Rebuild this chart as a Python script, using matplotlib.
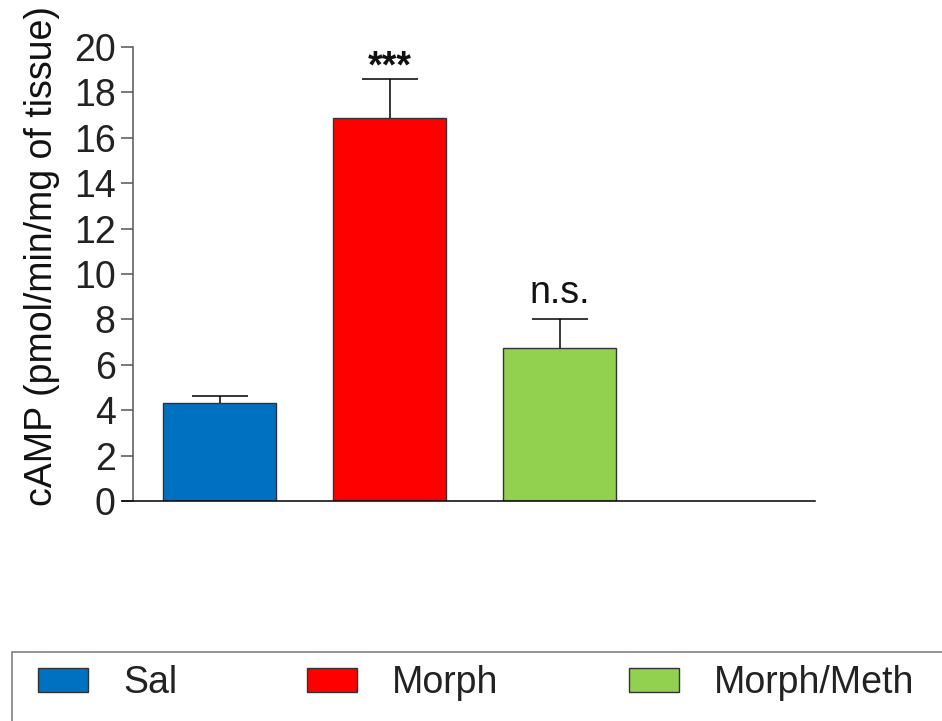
import matplotlib.pyplot as plt
from matplotlib.patches import Rectangle

# --- Data ---
groups = ["Sal", "Morph", "Morph/Meth"]
camp_mean = [4.32, 16.87, 6.74]
camp_sem = [0.31, 1.72, 1.29]
signif = ["", "***", "n.s."]
colors = ["#0070C0", "#FF0000", "#92D050"]
y_ticks = [0, 2, 4, 6, 8, 10, 12, 14, 16, 18, 20]

plt.rcParams['font.family'] = ['Liberation Sans', 'DejaVu Sans']
FS = 27

fig = plt.figure(figsize=(9.42, 7.21), dpi=100)
# axes span from the x-axis start (px 122) to px 815, y from px 47 to 501
ax = fig.add_axes([122 / 942, 1 - 501 / 721, (815 - 122) / 942, (501 - 47) / 721])

x = list(range(len(groups)))
bars = ax.bar(x, camp_mean, width=0.665, color=colors, edgecolor="#333333",
              linewidth=1.0, zorder=2)

# --- Error bars (upper only) ---
eb = ax.errorbar(x, camp_mean, yerr=[[0] * len(x), camp_sem], fmt="none",
                 ecolor="black", elinewidth=1.1, capsize=20, capthick=1.1, zorder=3)
# hide the lower cap that sits on the bar top
eb[1][0].set_visible(False)

# --- Significance labels ---
for xi, m, s, lab in zip(x, camp_mean, camp_sem, signif):
    if not lab:
        continue
    off = 0.05 if lab == "***" else 0.7
    ax.text(xi, m + s + off, lab, ha="center", va="baseline",
            fontsize=FS, color="#111111",
            fontweight="bold" if lab == "***" else "normal")

# --- Axes styling ---
ax.set_xlim(-0.574, 3.50)
ax.set_ylim(0, 20)
ax.set_yticks(y_ticks)
ax.set_xticks([])
for side in ["top", "right"]:
    ax.spines[side].set_visible(False)
ax.spines["left"].set_position(("data", -0.509))
ax.spines["left"].set_color("#555555")
ax.spines["left"].set_linewidth(1.1)
ax.spines["bottom"].set_color("black")
ax.spines["bottom"].set_linewidth(1.1)
ax.tick_params(axis="y", length=8.6, width=1.1, color="#555555",
               labelsize=FS, labelcolor="#222222", pad=4)

ax.set_ylabel("cAMP (pmol/min/mg of tissue)", fontsize=FS, color="#111111")
ax.yaxis.set_label_coords(-0.09, 0.54)

# --- Legend with frame running off the figure edge ---
frame = Rectangle((12 / 942, -0.02), 1.0, 0.02 + (721 - 652) / 721,
                  transform=fig.transFigure, facecolor="none",
                  edgecolor="#777777", linewidth=1.1, clip_on=False)
fig.patches.append(frame)

em = FS * 100 / 72
fig.legend(bars, groups, loc="center left",
           bbox_to_anchor=(38 / 942, 1 - 683 / 721),
           ncol=3, frameon=False, fontsize=FS, borderpad=0, borderaxespad=0,
           handlelength=50 / em, handleheight=23 / em,
           handletextpad=35 / em, columnspacing=130 / em,
           labelcolor="#222222")

fig.savefig("out.png", dpi=100)
